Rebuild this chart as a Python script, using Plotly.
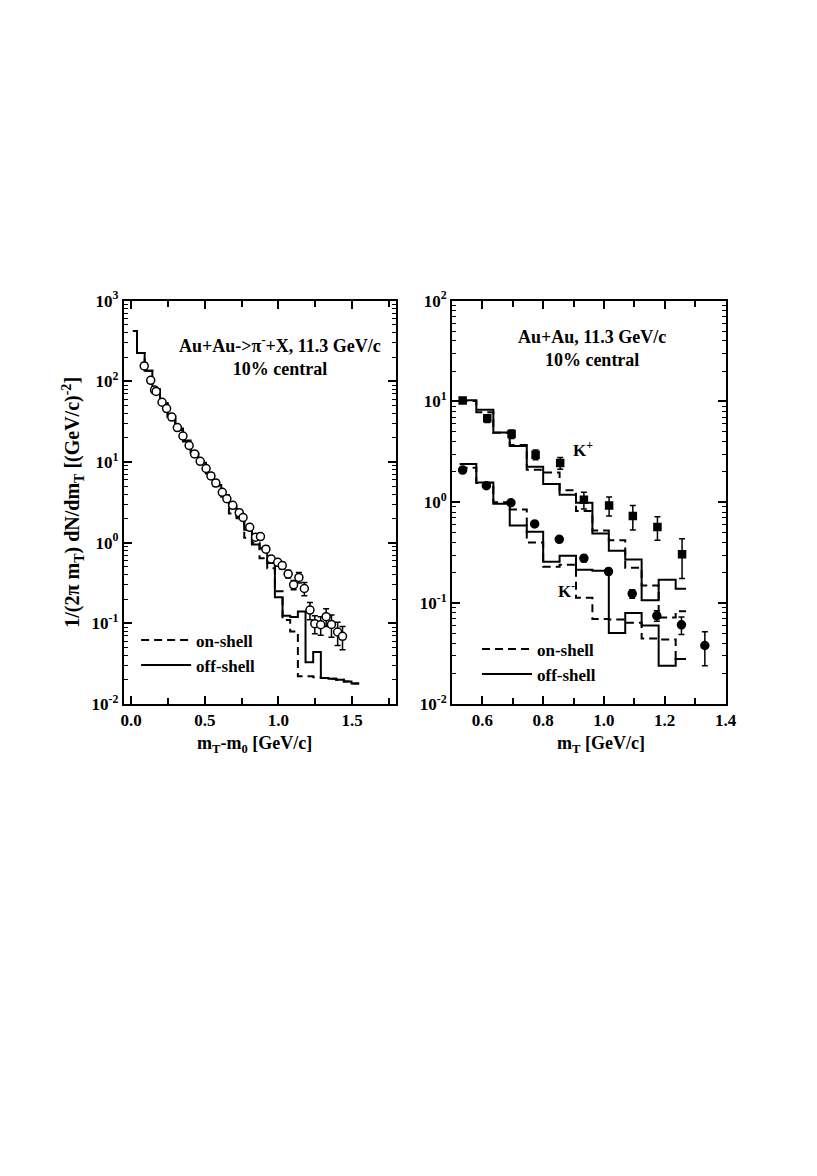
import plotly.graph_objects as go

# ---- left panel: pi- spectrum, Au+Au 11.3 GeV/c, 10% central ----
pi_mt = [0.089, 0.133, 0.159, 0.170, 0.210, 0.241, 0.276, 0.314, 0.352, 0.394,
         0.431, 0.469, 0.509, 0.542, 0.575, 0.619, 0.650, 0.690, 0.734, 0.760,
         0.805, 0.845, 0.878, 0.915, 0.951, 0.995, 1.026, 1.066, 1.103, 1.139,
         1.176, 1.214, 1.247, 1.287, 1.324, 1.360, 1.402, 1.435]
pi_yield = [155, 103, 78, 75, 55, 46, 36, 26.7, 21, 16,
            12.6, 10.2, 8.3, 6.7, 5.5, 4.2, 3.5, 2.9, 2.35, 2.05,
            1.55, 1.17, 1.19, 0.83, 0.625, 0.57, 0.52, 0.41, 0.30, 0.37,
            0.27, 0.146, 0.099, 0.096, 0.121, 0.097, 0.078, 0.069]
pi_err = [12, 8, 6, 6, 4, 3.5, 3, 2.2, 1.7, 1.3,
          1.0, 0.8, 0.65, 0.5, 0.45, 0.33, 0.28, 0.23, 0.19, 0.17,
          0.13, 0.1, 0.1, 0.07, 0.055, 0.05, 0.05, 0.045, 0.04, 0.055,
          0.05, 0.035, 0.025, 0.025, 0.03, 0.03, 0.025, 0.022]

pi_edges = [0.012, 0.040, 0.092, 0.144, 0.196, 0.248, 0.300, 0.352, 0.404, 0.456,
            0.508, 0.560, 0.612, 0.664, 0.716, 0.768, 0.820, 0.872, 0.924, 0.976,
            1.028, 1.080, 1.132, 1.184, 1.236, 1.288, 1.340, 1.392, 1.444, 1.496, 1.548]
pi_off = [420, 225, 135, 80, 54, 37, 26, 18.5, 13, 9.8,
          7.2, 5.2, 3.9, 2.8, 2.1, 1.45, 0.95, 0.85, 0.56, 0.21,
          0.124, 0.12, 0.14, 0.033, 0.044, 0.021, 0.0205, 0.020, 0.019, 0.018]
pi_on = [420, 225, 135, 78, 52, 36, 25, 18, 12.5, 9.5,
         6.9, 5.0, 3.6, 2.3, 2.0, 1.15, 1.0, 0.64, 0.48, 0.25,
         0.11, 0.079, 0.022, 0.022, 0.0215, 0.021, 0.0205, 0.020, 0.019, 0.018]

# ---- right panel: K+ and K- spectra ----
kp_mt = [0.535, 0.616, 0.696, 0.775, 0.856, 0.934, 1.017, 1.095, 1.176, 1.257]
kp_yield = [10.2, 6.8, 4.75, 2.97, 2.46, 1.06, 0.93, 0.73, 0.57, 0.306]
kp_err = [0.4, 0.6, 0.45, 0.33, 0.33, 0.2, 0.2, 0.2, 0.15, 0.13]

km_mt = [0.535, 0.613, 0.694, 0.772, 0.853, 0.934, 1.015, 1.093, 1.174, 1.255, 1.332]
km_yield = [2.09, 1.46, 0.99, 0.61, 0.43, 0.278, 0.206, 0.124, 0.075, 0.061, 0.038]
km_err = [0.06, 0.05, 0.04, 0.03, 0.02, 0.02, 0.015, 0.012, 0.009, 0.012, 0.014]

k_edges = [0.525, 0.580, 0.636, 0.690, 0.746, 0.800, 0.854, 0.908, 0.962,
           1.016, 1.070, 1.124, 1.180, 1.236, 1.270]
kp_off = [10.3, 8.3, 4.93, 3.62, 2.25, 1.52, 1.19, 0.99, 0.49, 0.33, 0.271, 0.107, 0.171, 0.139]
kp_on = [10.1, 7.8, 4.9, 3.7, 2.1, 1.97, 1.32, 0.82, 0.525, 0.42, 0.225, 0.15, 0.072, 0.083]
km_off = [2.4, 1.57, 0.97, 0.59, 0.51, 0.258, 0.295, 0.214, 0.209, 0.0505, 0.0797, 0.06, 0.024, 0.028]
km_on = [2.2, 1.55, 1.0, 0.85, 0.40, 0.23, 0.24, 0.113, 0.0697, 0.069, 0.064, 0.0446, 0.0436, 0.028]

FONT = "Liberation Serif"
DASH = "8px,5px"


def step(edges, vals, dash, name, xa, ya, legend, show):
    return go.Scatter(x=edges, y=list(vals) + [vals[-1]], mode="lines", line_shape="hv",
                      line=dict(color="black", width=2, dash=dash), name=name,
                      xaxis=xa, yaxis=ya, legend=legend, showlegend=show)


def points(x, y, err, symbol, fill, size, xa, ya):
    return go.Scatter(x=x, y=y, mode="markers", xaxis=xa, yaxis=ya, showlegend=False,
                      marker=dict(symbol=symbol, size=size, color=fill,
                                  line=dict(color="black", width=1.5)),
                      error_y=dict(type="data", array=err, color="black", thickness=1.5, width=3))


fig = go.Figure()
fig.add_trace(step(pi_edges, pi_on, DASH, "on-shell", "x", "y", "legend", True))
fig.add_trace(step(pi_edges, pi_off, "solid", "off-shell", "x", "y", "legend", True))
fig.add_trace(points(pi_mt, pi_yield, pi_err, "circle", "white", 8, "x", "y"))

fig.add_trace(step(k_edges, kp_on, DASH, "on-shell", "x2", "y2", "legend2", True))
fig.add_trace(step(k_edges, kp_off, "solid", "off-shell", "x2", "y2", "legend2", True))
fig.add_trace(step(k_edges, km_on, DASH, "on-shell", "x2", "y2", "legend2", False))
fig.add_trace(step(k_edges, km_off, "solid", "off-shell", "x2", "y2", "legend2", False))
fig.add_trace(points(kp_mt, kp_yield, kp_err, "square", "black", 7, "x2", "y2"))
fig.add_trace(points(km_mt, km_yield, km_err, "circle", "black", 8, "x2", "y2"))


def bold(size):
    return dict(family=FONT, size=size, color="black", weight="bold")


axis_common = dict(showline=True, linewidth=2, linecolor="black", mirror="ticks",
                   ticks="inside", ticklen=8, tickwidth=1.5, tickcolor="black",
                   showgrid=False, zeroline=False, tickfont=bold(17))

log_minor = [m * 10.0 ** e for e in range(-2, 3) for m in range(2, 10)]


def dec_label(e):
    return "10<sup>%d</sup>" % e


# page body has an 8px margin, domains are shifted to compensate
fig.update_layout(
    width=817, height=1176, autosize=False,
    margin=dict(l=0, r=0, t=0, b=0),
    paper_bgcolor="white", plot_bgcolor="white",
    font=bold(17),
    xaxis=dict(domain=[0.1404, 0.4798], range=[-0.05, 1.8], anchor="y",
               tickvals=[0.0, 0.5, 1.0, 1.5], ticktext=["0.0", "0.5", "1.0", "1.5"],
               minor=dict(ticks="inside", ticklen=6, tickwidth=1.5, tickcolor="black",
                          dtick=0.25, tick0=0),
               **axis_common),
    yaxis=dict(domain=[0.4073, 0.7568], type="log", range=[-2, 3], anchor="x",
               tickvals=[10.0 ** e for e in range(-2, 4)],
               ticktext=[dec_label(e) for e in range(-2, 4)],
               minor=dict(ticks="inside", ticklen=4, tickwidth=1.2, tickcolor="black",
                          tickvals=log_minor),
               title=dict(text="1/(2\u03c0 m<sub>T</sub>) dN/dm<sub>T</sub> [(GeV/c)<sup>-2</sup>]",
                          font=bold(20), standoff=6),
               **axis_common),
    xaxis2=dict(domain=[0.5492, 0.8898], range=[0.5, 1.4], anchor="y2",
                tickvals=[0.6, 0.8, 1.0, 1.2, 1.4], ticktext=["0.6", "0.8", "1.0", "1.2", "1.4"],
                minor=dict(ticks="inside", ticklen=6, tickwidth=1.5, tickcolor="black",
                           dtick=0.1, tick0=0.5),
                **axis_common),
    yaxis2=dict(domain=[0.4073, 0.7568], type="log", range=[-2, 2], anchor="x2",
                tickvals=[10.0 ** e for e in range(-2, 3)],
                ticktext=[dec_label(e) for e in range(-2, 3)],
                minor=dict(ticks="inside", ticklen=4, tickwidth=1.2, tickcolor="black",
                           tickvals=log_minor),
                **axis_common),
    legend=dict(x=0.1558, y=0.478, xanchor="left", yanchor="top", bgcolor="rgba(0,0,0,0)",
                font=bold(17), itemwidth=50, tracegroupgap=0),
    legend2=dict(x=0.5803, y=0.4702, xanchor="left", yanchor="top", bgcolor="rgba(0,0,0,0)",
                 font=bold(17), itemwidth=50, tracegroupgap=0),
)

notes = [
    ("x domain", "y domain", 0.573, 0.864, "Au+Au->\u03c0<sup>-</sup>+X, 11.3 GeV/c<br>10% central", 18),
    ("x2 domain", "y2 domain", 0.511, 0.882, "Au+Au, 11.3 GeV/c<br>10% central", 18),
    ("x2 domain", "y2 domain", 0.479, 0.632, "K<sup>+</sup>", 17),
    ("x2 domain", "y2 domain", 0.419, 0.283, "K<sup>-</sup>", 17),
    ("x domain", "y domain", 0.481, -0.10, "m<sub>T</sub>-m<sub>0</sub> [GeV/c]", 18),
    ("x2 domain", "y2 domain", 0.544, -0.10, "m<sub>T</sub> [GeV/c]", 18),
]
for xr, yr, ax, ay, txt, fs in notes:
    fig.add_annotation(xref=xr, yref=yr, x=ax, y=ay, text=txt, showarrow=False,
                       font=bold(fs), xanchor="center", yanchor="middle")

fig.write_html("out.html")
